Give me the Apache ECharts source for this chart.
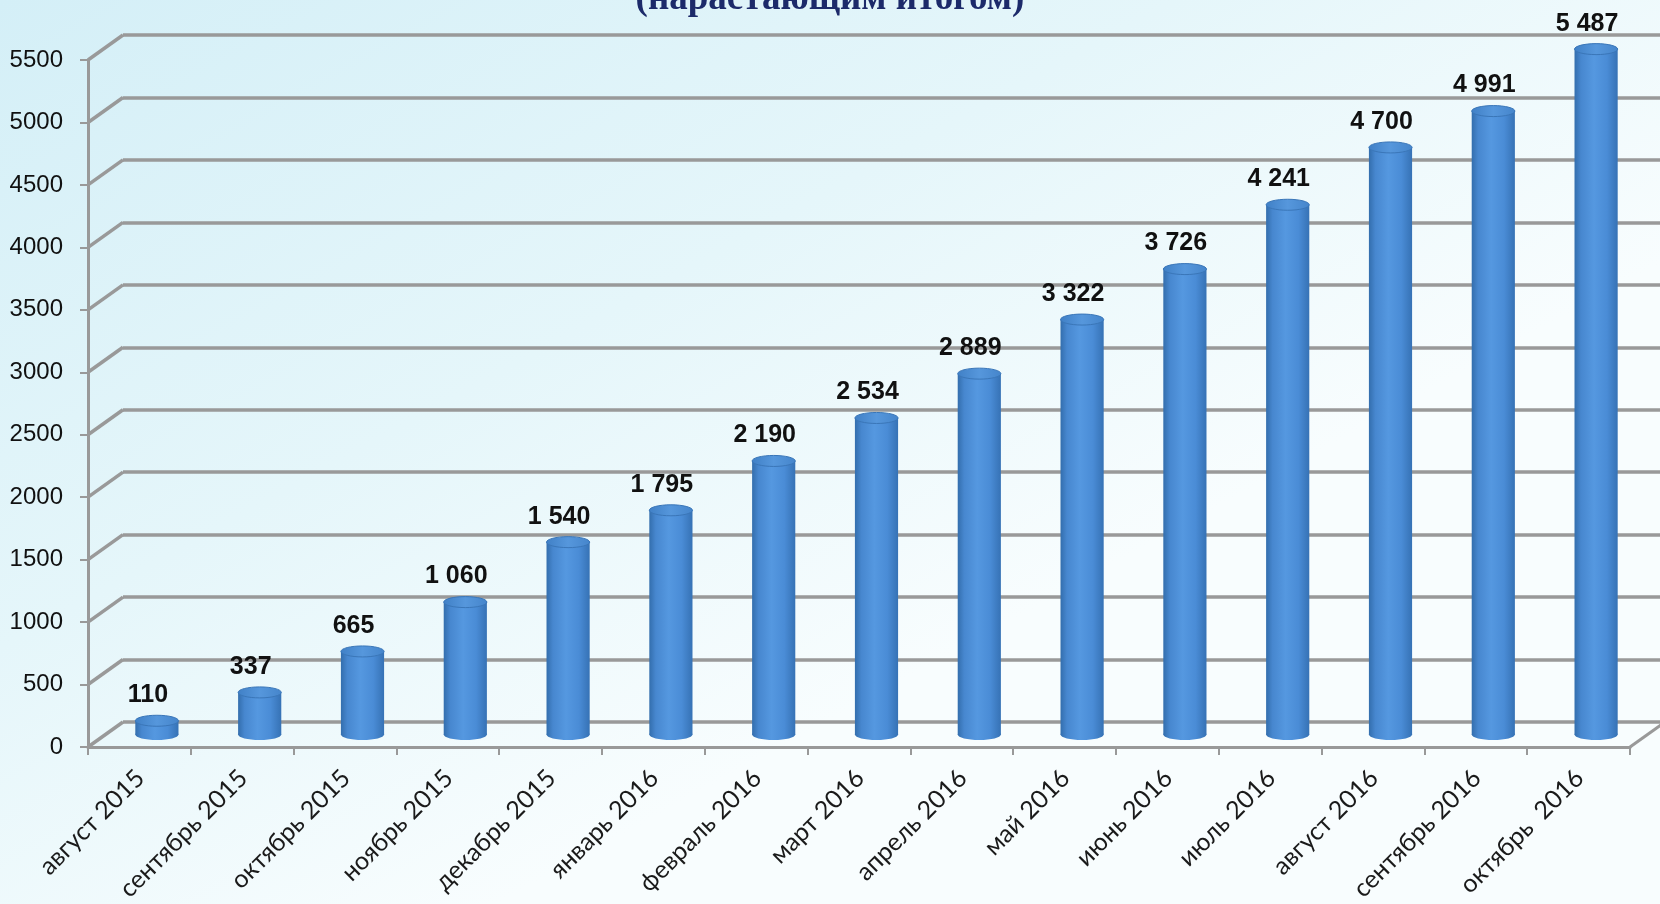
<!DOCTYPE html>
<html>
<head>
<meta charset="utf-8">
<script src="https://cdn.jsdelivr.net/npm/echarts@6/dist/echarts.min.js"></script>
<style>
html,body{margin:0;padding:0;}
#chart{width:1660px;height:904px;}
</style>
</head>
<body>
<div id="chart"></div>
<script>
const categories = ['август 2015','сентябрь 2015','октябрь 2015','ноябрь 2015','декабрь 2015','январь 2016','февраль 2016','март 2016','апрель 2016','май 2016','июнь 2016','июль 2016','август 2016','сентябрь 2016','октябрь  2016'];
const values = [110,337,665,1060,1540,1795,2190,2534,2889,3322,3726,4241,4700,4991,5487];
const yTicks = [0,500,1000,1500,2000,2500,3000,3500,4000,4500,5000,5500];
const titleText = '(нарастающим итогом)';

const Y_MIN = 0, Y_MAX = 5500, Y_STEP = 500;
const GW = 1542, GH = 687;
const DX = 35, DY = -25;
const GRAY = '#999999';

function fmt(v){ return String(v).replace(/\B(?=(\d{3})+(?!\d))/g, ' '); }

const chart = echarts.init(document.getElementById('chart'));

function yAx(grid, extra){ return Object.assign({type:'value', gridIndex:grid, min:Y_MIN, max:Y_MAX, interval:Y_STEP}, extra); }
function xAx(grid, extra){ return Object.assign({type:'category', gridIndex:grid, data:categories, boundaryGap:true}, extra); }

const option = {
  backgroundColor: {type:'linear', x:0, y:0, x2:0.3, y2:1, colorStops:[
    {offset:0, color:'#d4eff7'}, {offset:0.55, color:'#e5f6fa'}, {offset:1, color:'#f8fdfe'}]},
  animation:false,
  graphic:[{
    type:'text', left:'center', top:-19, z:100,
    style:{text:titleText, fill:'#1c2a6a', font:'bold 37px "Liberation Serif", "Times New Roman", serif'}
  }],
  grid:[
    {left:88, top:60, width:GW, height:GH},
    {left:88+DX, top:60+DY, width:GW, height:GH},
    {left:88+DX/2, top:60+DY/2, width:GW, height:GH},
    {left:89, top:60, width:GW, height:GH}
  ],
  xAxis:[
    xAx(0, {axisLine:{show:true, lineStyle:{color:GRAY, width:3}}, axisTick:{show:true, interval:0, length:8, lineStyle:{color:GRAY, width:2}}, axisLabel:{show:false}, splitLine:{show:false}}),
    xAx(1, {show:false}),
    xAx(2, {show:false}),
    xAx(3, {axisLine:{show:false}, axisTick:{show:false}, splitLine:{show:false},
      axisLabel:{show:true, interval:0, rotate:45, margin:50, fontSize:25, color:'#1a1a1a', fontFamily:'Lato, "Liberation Sans", sans-serif'}})
  ],
  yAxis:[
    yAx(0, {axisLine:{show:true, lineStyle:{color:GRAY, width:3}}, axisTick:{show:true, length:8, lineStyle:{color:GRAY, width:2}},
      axisLabel:{show:true, margin:25, fontSize:24, color:'#111', fontFamily:'"Liberation Sans", Arial, sans-serif', formatter: v => String(v)}, splitLine:{show:false}}),
    yAx(1, {axisLine:{show:false}, axisTick:{show:false}, axisLabel:{show:false}, splitLine:{show:true, lineStyle:{color:GRAY, width:3.5}}}),
    yAx(2, {show:false, splitLine:{show:false}}),
    yAx(3, {show:false, splitLine:{show:false}})
  ],
  series:[
    {
      type:'custom', xAxisIndex:0, yAxisIndex:0, z:1,
      data: yTicks.map(v => [0, v]),
      renderItem(params, api){
        const v = api.value(1);
        const cs = params.coordSys;
        const y = api.coord([0, v])[1];
        const children = [{type:'line', shape:{x1:cs.x, y1:y, x2:cs.x+DX, y2:y+DY}, style:{stroke:GRAY, lineWidth:3.5}}];
        if (v === Y_MIN) {
          children.push({type:'line', shape:{x1:cs.x+cs.width, y1:y, x2:cs.x+cs.width+DX, y2:y+DY}, style:{stroke:GRAY, lineWidth:3}});
        }
        return {type:'group', children};
      }
    },
    {
      type:'custom', xAxisIndex:2, yAxisIndex:2, z:5,
      data: values.map((v,i) => [i, v]),
      renderItem(params, api){
        const i = api.value(0), v = api.value(1);
        const top = api.coord([i, v]);
        const base = api.coord([i, 0]);
        const w = api.size([1, 0])[0] * 0.42;
        const rx = w/2, ry = 5.5;
        const cx = top[0];
        const bodyGrad = new echarts.graphic.LinearGradient(0,0,1,0,[
          {offset:0, color:'#336ead'},{offset:0.15, color:'#4787cf'},{offset:0.45, color:'#5598e0'},
          {offset:0.75, color:'#4a8cd6'},{offset:1, color:'#3672b5'}]);
        return {type:'group', children:[
          {type:'ellipse', shape:{cx, cy:base[1], rx, ry}, style:{fill:bodyGrad}},
          {type:'rect', shape:{x:cx-rx, y:top[1], width:w, height:base[1]-top[1]}, style:{fill:bodyGrad}},
          {type:'ellipse', shape:{cx, cy:top[1], rx, ry}, style:{fill:new echarts.graphic.LinearGradient(0,0,1,0,[
            {offset:0, color:'#4080c6'},{offset:0.5, color:'#5697dc'},{offset:1, color:'#4585cb'}]), stroke:'#3a76b8', lineWidth:1}},
          {type:'text', x:cx-9, y:top[1]-13, style:{text:fmt(v), textAlign:'center', textVerticalAlign:'bottom',
            fill:'#111', font:'bold 25px "Liberation Sans", Arial, sans-serif'}}
        ]};
      }
    }
  ]
};
chart.setOption(option);
</script>
</body>
</html>
